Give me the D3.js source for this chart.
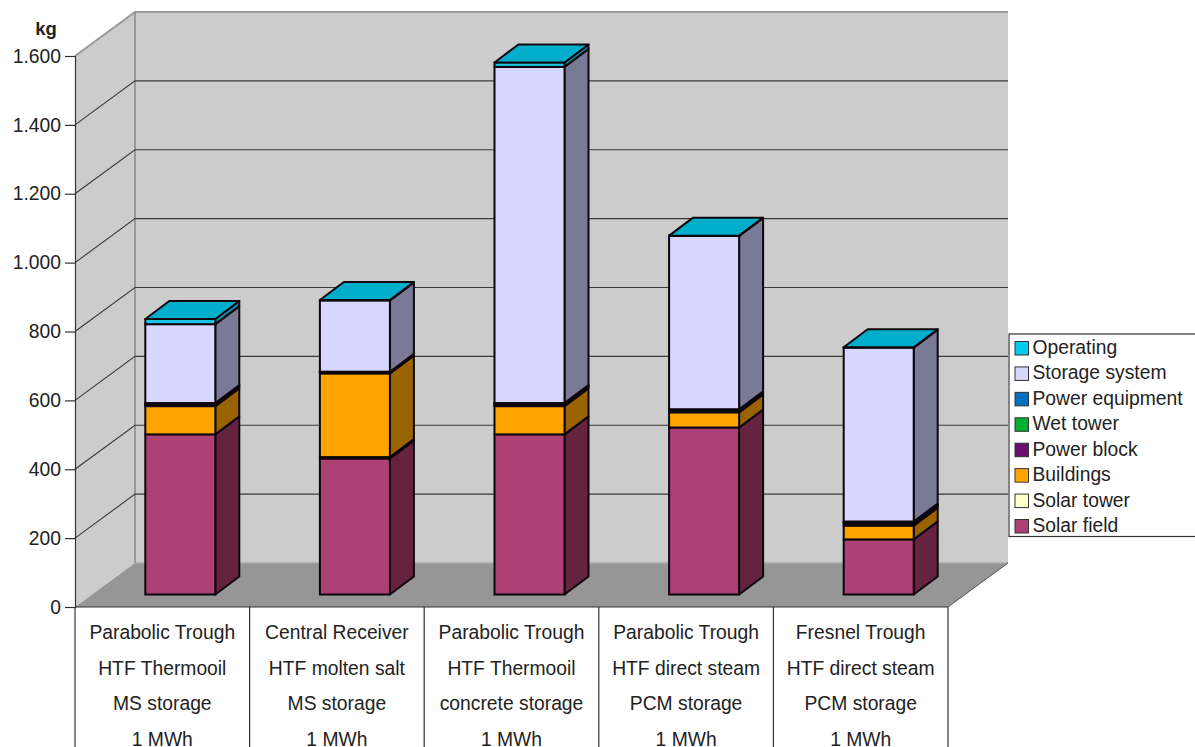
<!DOCTYPE html>
<html>
<head>
<meta charset="utf-8">
<script src="https://cdn.jsdelivr.net/npm/d3@7"></script>
<style>
  html, body { margin: 0; padding: 0; background: #fff; }
  svg { display: block; }
  text { font-family: "Liberation Sans", Arial, sans-serif; fill: #222; }
</style>
</head>
<body>
<svg id="chart" width="1195" height="747"></svg>
<script>
// Stack order runs bottom to top
const seriesNames = ["Solar field", "Solar tower", "Buildings", "Power block", "Wet tower", "Power equipment", "Storage system", "Operating"];
const categories = ["A", "B", "C", "D", "E"];
const categoryLines = [
  ["Parabolic Trough", "HTF Thermooil", "MS storage", "1 MWh"],
  ["Central Receiver", "HTF molten salt", "MS storage", "1 MWh"],
  ["Parabolic Trough", "HTF Thermooil", "concrete storage", "1 MWh"],
  ["Parabolic Trough", "HTF direct steam", "PCM storage", "1 MWh"],
  ["Fresnel Trough", "HTF direct steam", "PCM storage", "1 MWh"]
];
const solarField     = [465, 395, 465, 485, 160];
const solarTower     = [0, 4, 0, 0, 0];
const buildings      = [82, 243, 82, 44, 40];
const powerBlock     = [5, 3, 5, 5, 6];
const wetTower       = [2, 1, 2, 2, 3];
const powerEquipment = [2, 1, 2, 2, 3];
const storageSystem  = [229, 207, 976, 503, 505];
const operating      = [15, 1, 13, 1, 1];
const tickValues     = [0, 200, 400, 600, 800, 1000, 1200, 1400, 1600];

const frontColors = ["#ad4074", "#ffffcc", "#ffa500", "#6a0f70", "#00a020", "#0066b0", "#d8d8ff", "#1cc4e6"];
const sideColors  = ["#66233f", "#99997a", "#996300", "#3f0943", "#006013", "#003d69", "#7a7a96", "#0f8fa8"];
const swatchColors = ["#ad4074", "#ffffcc", "#ffa500", "#6a0f70", "#00b030", "#0070c0", "#d8d8ff", "#00ccee"];
const topColor = "#00aecb";

// Layout of the box: front plane, depth of the walls, depth of each bar
const plot = { left: 75, right: 948, bottom: 607, top: 56, depthX: 60, depthY: -44 };
const barDepth = { x: 24, y: -18 };
const barShift = { x: 18, y: -12.5 };
const barWidth = 70;
const labelSize = 19.3;

const svg = d3.select("#chart");
const y = d3.scaleLinear().domain([0, 1600]).range([plot.bottom, plot.top]);
const x = d3.scaleBand().domain(categories).range([plot.left, plot.right]);

const pts = a => a.map(p => p.join(",")).join(" ");

// Side wall, back wall and floor
svg.append("polygon")
  .attr("points", pts([[plot.left, plot.top], [plot.left + plot.depthX, plot.top + plot.depthY],
    [plot.left + plot.depthX, plot.bottom + plot.depthY], [plot.left, plot.bottom]]))
  .attr("fill", "#cccccc");
svg.append("polygon")
  .attr("points", pts([[plot.left + plot.depthX, plot.top + plot.depthY], [plot.right + plot.depthX, plot.top + plot.depthY],
    [plot.right + plot.depthX, plot.bottom + plot.depthY], [plot.left + plot.depthX, plot.bottom + plot.depthY]]))
  .attr("fill", "#cccccc");
svg.append("polygon")
  .attr("points", pts([[plot.left, plot.bottom], [plot.right, plot.bottom],
    [plot.right + plot.depthX, plot.bottom + plot.depthY], [plot.left + plot.depthX, plot.bottom + plot.depthY]]))
  .attr("fill", "#969696");

// Wall edges
svg.append("polyline")
  .attr("points", pts([[plot.left, plot.top], [plot.left + plot.depthX, plot.top + plot.depthY], [plot.right + plot.depthX, plot.top + plot.depthY]]))
  .attr("fill", "none").attr("stroke", "#999").attr("stroke-width", 2);
svg.append("line")
  .attr("x1", plot.left + plot.depthX).attr("x2", plot.left + plot.depthX)
  .attr("y1", plot.top + plot.depthY).attr("y2", plot.bottom + plot.depthY)
  .attr("stroke", "#999").attr("stroke-width", 2);
svg.append("line")
  .attr("x1", plot.left + plot.depthX).attr("x2", plot.right + plot.depthX)
  .attr("y1", plot.bottom + plot.depthY).attr("y2", plot.bottom + plot.depthY)
  .attr("stroke", "#a8a8a8").attr("stroke-width", 1.5);

// Gridlines wrap from the side wall onto the back wall
svg.append("g").selectAll("polyline")
  .data(tickValues.slice(1, -1))
  .join("polyline")
  .attr("points", d => pts([[plot.left, y(d)], [plot.left + plot.depthX, y(d) + plot.depthY], [plot.right + plot.depthX, y(d) + plot.depthY]]))
  .attr("fill", "none").attr("stroke", "#3a3a3a").attr("stroke-width", 1.1);

// Right and lower outline of the floor
svg.append("line")
  .attr("x1", plot.right).attr("y1", plot.bottom)
  .attr("x2", plot.right + plot.depthX).attr("y2", plot.bottom + plot.depthY)
  .attr("stroke", "#555").attr("stroke-width", 1);

// Stacked bars
const rows = categories.map((c, i) => ({
  category: c,
  "Solar field": solarField[i], "Solar tower": solarTower[i], "Buildings": buildings[i],
  "Power block": powerBlock[i], "Wet tower": wetTower[i], "Power equipment": powerEquipment[i],
  "Storage system": storageSystem[i], "Operating": operating[i]
}));
const stacked = d3.stack().keys(seriesNames)(rows);

const barLeft = c => x(c) + (x.bandwidth() - barWidth) / 2 + barShift.x;
const level = v => y(v) + barShift.y;
const outline = { stroke: "#0c060c", width: 2 };

const barGroups = svg.append("g").selectAll("g")
  .data(categories)
  .join("g");

barGroups.each(function (cat, ci) {
  const g = d3.select(this);
  const x0 = barLeft(cat), x1 = x0 + barWidth;
  stacked.forEach((layer, si) => {
    const [a, b] = layer[ci];
    if (b <= a) return;
    const yA = level(a), yB = level(b);
    g.append("polygon")
      .attr("points", pts([[x1, yA], [x1 + barDepth.x, yA + barDepth.y], [x1 + barDepth.x, yB + barDepth.y], [x1, yB]]))
      .attr("fill", sideColors[si]).attr("stroke", outline.stroke).attr("stroke-width", outline.width).attr("stroke-linejoin", "round");
    g.append("rect")
      .attr("x", x0).attr("y", yB).attr("width", barWidth).attr("height", yA - yB)
      .attr("fill", frontColors[si]).attr("stroke", outline.stroke).attr("stroke-width", outline.width);
  });
  const total = stacked[stacked.length - 1][ci][1];
  const yT = level(total);
  g.append("polygon")
    .attr("points", pts([[x0, yT], [x1, yT], [x1 + barDepth.x, yT + barDepth.y], [x0 + barDepth.x, yT + barDepth.y]]))
    .attr("fill", topColor).attr("stroke", outline.stroke).attr("stroke-width", outline.width).attr("stroke-linejoin", "round");
});

// Value axis, dots as thousands separators
const dotted = d3.formatLocale({ decimal: ",", thousands: ".", grouping: [3], currency: ["", ""] }).format(",d");
const axis = svg.append("g")
  .attr("transform", `translate(${plot.left},0)`)
  .call(d3.axisLeft(y).tickValues(tickValues).tickFormat(dotted).tickSize(10).tickPadding(4));
axis.select(".domain").attr("stroke", "#333").attr("stroke-width", 1.2);
axis.selectAll(".tick line").attr("stroke", "#333").attr("stroke-width", 1.2);
axis.selectAll(".tick text").attr("font-size", labelSize).attr("font-family", "'Liberation Sans', Arial, sans-serif").attr("fill", "#222");

svg.append("text").attr("x", 46).attr("y", 34.5).attr("text-anchor", "middle")
  .attr("font-size", 18.5).attr("font-weight", "bold").text("kg");

// Category table below the floor
svg.append("line")
  .attr("x1", plot.left).attr("x2", plot.right).attr("y1", plot.bottom).attr("y2", plot.bottom)
  .attr("stroke", "#333").attr("stroke-width", 1.2);
const edges = categories.map(c => x(c)).concat([plot.right]);
svg.append("g").selectAll("line").data(edges).join("line")
  .attr("x1", d => d).attr("x2", d => d).attr("y1", plot.bottom).attr("y2", 747)
  .attr("stroke", "#333").attr("stroke-width", 1.2);

const lineY = d3.scalePoint().domain(d3.range(4)).range([639, 745.6]);
categories.forEach((c, i) => {
  svg.append("g").selectAll("text").data(categoryLines[i]).join("text")
    .attr("x", x(c) + x.bandwidth() / 2)
    .attr("y", (d, k) => lineY(k))
    .attr("text-anchor", "middle").attr("font-size", labelSize)
    .text(d => d);
});

// Legend, highest series first
const legend = svg.append("g");
legend.append("rect").attr("x", 1009).attr("y", 334).attr("width", 190).attr("height", 202.5)
  .attr("fill", "#fff").attr("stroke", "#333").attr("stroke-width", 1.2);
const legendItems = seriesNames.map((name, i) => ({ name, color: swatchColors[i] })).reverse();
const legendY = d3.scalePoint().domain(d3.range(legendItems.length)).range([348, 526]);
const item = legend.selectAll("g").data(legendItems).join("g")
  .attr("transform", (d, i) => `translate(0,${legendY(i)})`);
item.append("rect").attr("x", 1015).attr("y", -6.5).attr("width", 13.5).attr("height", 13.5)
  .attr("fill", d => d.color).attr("stroke", "#333").attr("stroke-width", 1);
item.append("text").attr("x", 1032.5).attr("y", 6).attr("font-size", labelSize).text(d => d.name);
</script>
</body>
</html>
